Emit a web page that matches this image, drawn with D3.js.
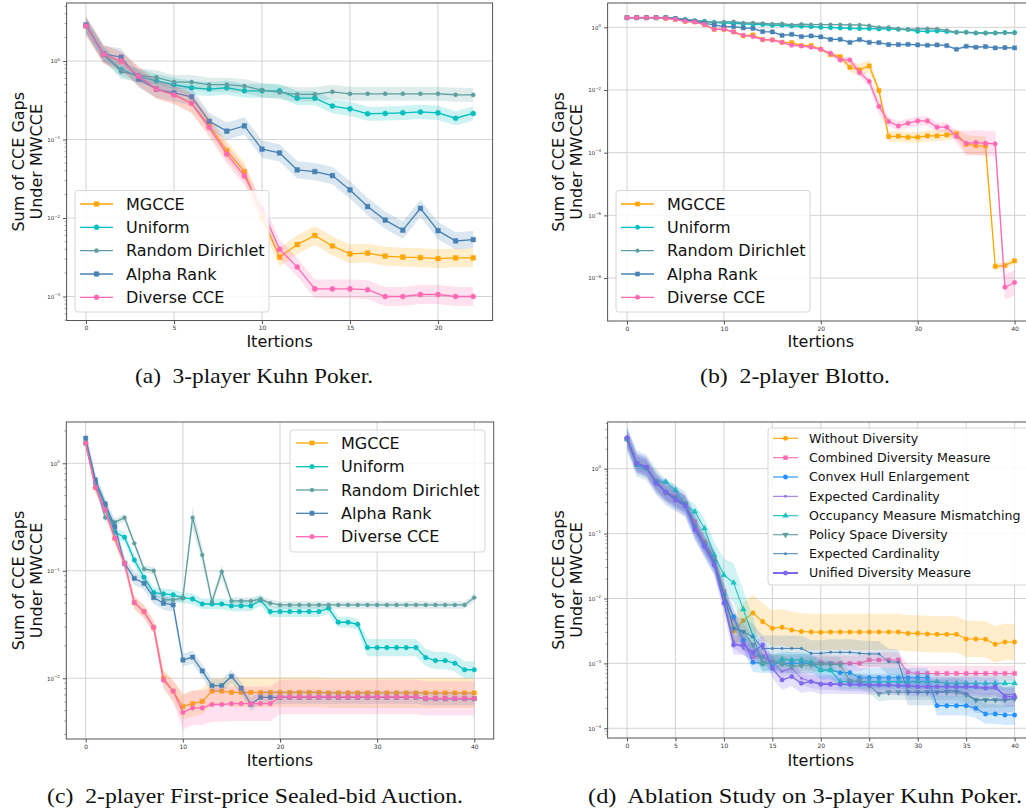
<!DOCTYPE html>
<html><head><meta charset="utf-8">
<script src="https://cdn.jsdelivr.net/npm/d3@7"></script>
<style>body{margin:0;background:#fff}</style>
</head><body><svg id="c" width="1026" height="809" font-family="DejaVu Sans"></svg>
<script>
// ---------------- Data: panel (a) 3-player Kuhn Poker, iterations 0..22 ----------------
const itersA = [0,1,2,3,4,5,6,7,8,9,10,11,12,13,14,15,16,17,18,19,20,21,22];
const mgcceA   = [2.8,1.22,1.0,0.64,0.44,0.376,0.29,0.152,0.072,0.039,0.0103,0.00317,0.00459,0.006,0.0044,0.0035,0.00357,0.00327,0.00317,0.00312,0.00303,0.0031,0.0031];
const uniformA = [2.8,1.22,0.78,0.64,0.56,0.50,0.457,0.44,0.457,0.418,0.418,0.418,0.337,0.337,0.267,0.246,0.213,0.215,0.219,0.225,0.219,0.187,0.215];
const dirichA  = [2.8,1.22,0.73,0.66,0.62,0.54,0.54,0.50,0.50,0.48,0.426,0.398,0.376,0.376,0.406,0.383,0.383,0.383,0.383,0.383,0.383,0.372,0.37];
const alphaA   = [2.9,1.23,1.12,0.59,0.44,0.394,0.35,0.171,0.128,0.149,0.0753,0.0675,0.041,0.039,0.0347,0.0228,0.014,0.0094,0.007,0.0133,0.0069,0.0051,0.0053];
const diverseA = [2.8,1.22,1.0,0.64,0.44,0.37,0.288,0.142,0.065,0.0344,0.0128,0.0040,0.00237,0.00125,0.00125,0.00125,0.00122,0.001,0.001,0.00106,0.00106,0.001,0.001];

// ---------------- Data: panel (b) 2-player Blotto, iterations 0..40 ----------------
const iters40 = [0,1,2,3,4,5,6,7,8,9,10,11,12,13,14,15,16,17,18,19,20,21,22,23,24,25,26,27,28,29,30,31,32,33,34,35,36,37,38,39,40];
const mgcceB   = [2.03,2.03,2.03,2.03,1.94,1.80,1.55,1.48,1.22,0.864,0.864,0.71,0.53,0.57,0.404,0.395,0.332,0.324,0.26,0.26,0.199,0.134,0.116,0.053,0.0436,0.0585,0.00957,0.000327,0.000335,0.000311,0.000311,0.000343,0.000343,0.000369,0.000398,0.000186,0.000169,0.000165,2.34e-8,2.52e-8,3.55e-8];
const uniformB = [2.03,2.03,2.03,2.03,2.03,1.89,1.71,1.63,1.55,1.44,1.37,1.34,1.28,1.25,1.22,1.16,1.16,1.10,1.076,1.05,1.0,0.976,0.952,0.929,0.907,0.907,0.885,0.885,0.864,0.843,0.746,0.746,0.764,0.728,0.693,0.693,0.66,0.66,0.66,0.676,0.676];
const dirichB  = [2.03,2.03,2.03,2.03,2.03,1.94,1.80,1.63,1.55,1.44,1.48,1.52,1.37,1.37,1.34,1.28,1.31,1.19,1.25,1.22,1.22,1.22,1.22,1.19,1.19,1.13,1.0,1.0,0.885,0.864,0.885,0.907,0.885,0.802,0.693,0.693,0.66,0.644,0.66,0.676,0.66];
const alphaB   = [2.03,2.03,2.03,2.03,2.03,1.89,1.71,1.55,1.34,1.19,1.05,1.05,0.952,0.929,0.728,0.71,0.556,0.598,0.504,0.53,0.492,0.414,0.414,0.332,0.404,0.332,0.324,0.28,0.28,0.287,0.273,0.267,0.273,0.26,0.199,0.248,0.231,0.242,0.22,0.225,0.22];
const diverseB = [2.03,2.03,2.03,2.03,1.94,1.80,1.55,1.48,1.22,0.864,0.864,0.71,0.556,0.504,0.404,0.395,0.332,0.267,0.254,0.231,0.199,0.148,0.091,0.091,0.0359,0.0185,0.00296,0.00098,0.000715,0.00087,0.00103,0.00103,0.000649,0.000649,0.000327,0.0002,0.00021,0.0002,0.000191,5.1e-9,7.2e-9];
// band half-widths (decades)
const mgcceBspread   = [0.03,0.03,0.03,0.03,0.03,0.03,0.03,0.03,0.03,0.03,0.03,0.03,0.03,0.03,0.03,0.03,0.03,0.03,0.03,0.03,0.03,0.06,0.08,0.15,0.2,0.2,0.15,0.17,0.17,0.17,0.17,0.17,0.17,0.17,0.15,0.3,0.3,0.3,0.1,0.1,0.1];
const diverseBspread = [0.03,0.03,0.03,0.03,0.03,0.03,0.03,0.03,0.03,0.03,0.03,0.03,0.03,0.03,0.03,0.03,0.03,0.03,0.03,0.03,0.03,0.08,0.1,0.1,0.15,0.15,0.25,0.15,0.15,0.15,0.15,0.15,0.15,0.15,0.2,0.4,0.4,0.4,0.4,0.4,0.4];

// ---------------- Data: panel (c) First-price Sealed-bid Auction ----------------
const mgcceC   = [1.535,0.594,0.368,0.2,0.117,0.0506,0.0417,0.0298,0.0100,0.0076,0.00545,0.0058,0.0061,0.0076,0.0076,0.0074,0.0074,0.0074,0.0074,0.0074,0.0074,0.0074,0.0074,0.0074,0.0074,0.0073,0.0073,0.0073,0.0073,0.0073,0.0073,0.0073,0.0073,0.0073,0.0073,0.0073,0.0073,0.0073,0.0073,0.0073,0.0073];
const uniformC = [1.535,0.652,0.41,0.228,0.205,0.126,0.087,0.0626,0.0609,0.0596,0.0559,0.0547,0.0491,0.0491,0.0491,0.0471,0.0471,0.0471,0.0532,0.0417,0.0417,0.0417,0.0417,0.0417,0.0417,0.0448,0.0332,0.0332,0.0318,0.0193,0.0193,0.0193,0.0193,0.0193,0.0193,0.0156,0.0146,0.0146,0.0138,0.012,0.012];
const dirichC  = [1.535,0.652,0.312,0.283,0.312,0.18,0.104,0.10,0.0535,0.0535,0.0559,0.312,0.14,0.0516,0.0982,0.0524,0.0524,0.0524,0.0543,0.0499,0.0481,0.0481,0.0481,0.0481,0.0481,0.0481,0.0481,0.0481,0.0481,0.0481,0.0481,0.0481,0.0481,0.0481,0.0481,0.0481,0.0481,0.0481,0.0481,0.0481,0.0563];
const alphaC   = [1.71,0.70,0.418,0.257,0.117,0.085,0.0765,0.0563,0.0499,0.0481,0.0148,0.0157,0.0117,0.00855,0.00855,0.0104,0.0081,0.00573,0.00665,0.00665,0.00665,0.00665,0.00665,0.00665,0.00665,0.00665,0.00665,0.00665,0.00665,0.00665,0.00665,0.00665,0.00665,0.00665,0.00665,0.00645,0.00645,0.00645,0.00645,0.00645,0.00645];
const diverseC = [1.535,0.594,0.368,0.2,0.117,0.0506,0.0417,0.0298,0.0096,0.0076,0.0048,0.0053,0.0053,0.0057,0.0057,0.0058,0.0058,0.0058,0.0058,0.0058,0.0067,0.0067,0.0067,0.0067,0.0067,0.0067,0.0067,0.0067,0.0067,0.0067,0.0067,0.0067,0.0067,0.0067,0.0067,0.0065,0.0065,0.0065,0.0065,0.0065,0.0065];
const mgcceCspread   = [0.04,0.05,0.05,0.05,0.05,0.06,0.06,0.06,0.08,0.1,0.12,0.12,0.12,0.12,0.12,0.14,0.14,0.14,0.14,0.14,0.14,0.14,0.14,0.14,0.14,0.14,0.14,0.14,0.14,0.14,0.14,0.14,0.14,0.14,0.14,0.14,0.14,0.14,0.14,0.14,0.14];
const diverseCspread = [0.04,0.05,0.05,0.05,0.05,0.06,0.06,0.06,0.08,0.1,0.16,0.16,0.16,0.16,0.16,0.16,0.16,0.16,0.16,0.16,0.16,0.16,0.16,0.16,0.16,0.16,0.16,0.16,0.16,0.16,0.16,0.16,0.16,0.16,0.16,0.16,0.16,0.16,0.16,0.16,0.16];
const uniformCspread = [0.05,0.05,0.05,0.05,0.05,0.05,0.05,0.05,0.05,0.05,0.05,0.05,0.05,0.05,0.05,0.05,0.05,0.05,0.05,0.05,0.05,0.05,0.05,0.05,0.05,0.05,0.05,0.05,0.05,0.08,0.08,0.08,0.08,0.08,0.08,0.08,0.08,0.08,0.08,0.08,0.08];
const dirichCspread  = [0.035,0.035,0.035,0.035,0.035,0.035,0.035,0.035,0.035,0.035,0.035,0.1,0.08,0.035,0.06,0.035,0.035,0.035,0.035,0.035,0.035,0.035,0.035,0.035,0.035,0.035,0.035,0.035,0.035,0.035,0.035,0.035,0.035,0.035,0.035,0.035,0.035,0.035,0.035,0.035,0.035];

// ---------------- Data: panel (d) Ablation on 3-player Kuhn Poker ----------------
const withoutD  = [2.86,1.21,1.04,0.63,0.432,0.37,0.282,0.136,0.075,0.0416,0.0127,0.00316,0.00456,0.00598,0.0044,0.00347,0.0036,0.00327,0.0031,0.00305,0.00303,0.00305,0.00305,0.00305,0.00305,0.00305,0.00305,0.00305,0.00305,0.0029,0.0029,0.00284,0.0028,0.0028,0.0028,0.00238,0.00238,0.00235,0.00197,0.00214,0.00214];
const combinedD = [2.86,1.21,1.04,0.63,0.432,0.37,0.292,0.153,0.0707,0.0416,0.013,0.0049,0.0022,0.00127,0.00127,0.001,0.001,0.001,0.001,0.001,0.00104,0.001,0.001,0.001,0.001,0.00113,0.00113,0.00113,0.00113,0.00073,0.0007,0.0007,0.0007,0.0007,0.0007,0.0007,0.0007,0.0007,0.0007,0.0007,0.0007];
const convexD   = [2.93,1.21,1.04,0.63,0.442,0.349,0.282,0.128,0.0667,0.0369,0.0113,0.00525,0.0023,0.00104,0.001,0.001,0.001,0.001,0.001,0.001,0.00079,0.00079,0.00072,0.00072,0.0006,0.0006,0.0006,0.0006,0.0006,0.0006,0.0006,0.0006,0.000223,0.000223,0.000223,0.000223,0.000203,0.000166,0.000166,0.00016,0.00016];
const expCard1D = [2.93,1.21,1.04,0.594,0.432,0.329,0.269,0.12,0.063,0.0347,0.0095,0.00216,0.0017,0.00138,0.00127,0.00106,0.00075,0.00084,0.00059,0.000524,0.000493,0.000493,0.000476,0.000465,0.000465,0.000454,0.000454,0.000454,0.000454,0.000438,0.000438,0.000438,0.000438,0.000438,0.000423,0.000423,0.000423,0.000403,0.000413,0.000326,0.000334];
const occupD    = [2.86,1.14,1.01,0.63,0.63,0.469,0.275,0.218,0.12,0.0468,0.023,0.0175,0.0068,0.00264,0.001,0.001,0.00116,0.00113,0.00113,0.00104,0.00079,0.00079,0.000524,0.000524,0.000524,0.000524,0.000524,0.000524,0.000524,0.000524,0.000524,0.000524,0.000524,0.000493,0.000493,0.000493,0.000493,0.000493,0.000493,0.000493,0.000493];
const policyD   = [2.86,1.21,1.04,0.63,0.432,0.349,0.282,0.128,0.0667,0.0369,0.0107,0.00347,0.00308,0.00192,0.001,0.00106,0.001,0.00089,0.00093,0.00095,0.00097,0.00097,0.00095,0.000536,0.000536,0.000454,0.000342,0.000359,0.000359,0.000359,0.000359,0.000359,0.000359,0.000359,0.000359,0.000326,0.000273,0.000273,0.000273,0.000273,0.000284];
const expCard2D = [2.86,1.21,1.04,0.63,0.432,0.349,0.282,0.128,0.0667,0.0369,0.0113,0.00347,0.00308,0.00258,0.0017,0.0017,0.0017,0.0017,0.0017,0.00143,0.00143,0.00148,0.00148,0.00148,0.00143,0.0014,0.0014,0.00106,0.00104,0.000359,0.000359,0.000359,0.000359,0.000376,0.000376,0.000346,0.000273,0.000273,0.000273,0.000273,0.00029];
const unifiedD  = [3.0,1.21,1.07,0.594,0.432,0.329,0.269,0.1136,0.063,0.0328,0.00843,0.00192,0.00192,0.00148,0.00192,0.00084,0.000556,0.000625,0.000493,0.000524,0.000476,0.000476,0.000476,0.000476,0.000476,0.000465,0.000465,0.000465,0.000454,0.000454,0.000438,0.000438,0.000438,0.000438,0.000438,0.000438,0.000438,0.000423,0.000438,0.000308,0.000308];
const withoutDspread = [0.04,0.04,0.04,0.04,0.04,0.04,0.04,0.04,0.04,0.04,0.04,0.25,0.28,0.28,0.28,0.28,0.28,0.28,0.28,0.28,0.28,0.28,0.28,0.28,0.28,0.28,0.28,0.28,0.28,0.28,0.28,0.28,0.28,0.28,0.28,0.28,0.28,0.28,0.28,0.28,0.28];
const occupDspread   = [0.04,0.04,0.04,0.04,0.04,0.08,0.1,0.12,0.15,0.2,0.25,0.3,0.3,0.3,0.12,0.12,0.12,0.12,0.12,0.12,0.12,0.12,0.12,0.12,0.12,0.12,0.12,0.12,0.12,0.12,0.12,0.12,0.12,0.12,0.12,0.12,0.12,0.12,0.12,0.12,0.12];

// tick values
const ticksA = [0,5,10,15,20];
const ticks40 = [0,10,20,30,40];
const ticksD = [0,5,10,15,20,25,30,35,40];
const legendNamesABC = ["MGCCE","Uniform","Random Dirichlet","Alpha Rank","Diverse CCE"];
const legendNamesD = ["Without Diversity","Combined Diversity Measure","Convex Hull Enlargement","Expected Cardinality","Occupancy Measure Mismatching","Policy Space Diversity","Expected Cardinality","Unified Diversity Measure"];
const captions = ["(a)  3-player Kuhn Poker.","(b)  2-player Blotto.","(c)  2-player First-price Sealed-bid Auction.","(d)  Ablation Study on 3-player Kuhn Poker."];

// ---------------- styling ----------------
const C = {orange:"#FFA500", cyan:"#00BFBF", teal:"#5F9EA0", steel:"#4682B4", pink:"#FF69B4",
  dodger:"#1E90FF", mpurple:"#9370DB", turq:"#17C3C3", slate:"#7B68EE"};

const svg = d3.select("#c");
svg.append("rect").attr("width",1026).attr("height",809).attr("fill","#fff");

function symbolPath(kind, size){
  const t = {square:d3.symbolSquare, circle:d3.symbolCircle, tri:d3.symbolTriangle, tridown:d3.symbolTriangle, dot:d3.symbolCircle}[kind];
  return d3.symbol().type(t).size(size)();
}
function drawMarker(g, kind, size, color, cx, cy){
  g.append("path").attr("d", symbolPath(kind,size))
    .attr("transform", `translate(${cx},${cy})` + (kind==="tridown"?" rotate(180)":""))
    .attr("fill", color).attr("stroke", color).attr("stroke-width", 0.4);
}

function drawPanel(p, idx){
  const x = d3.scaleLinear().domain(p.xDom).range([p.left,p.right]);
  const y = d3.scaleLog().domain([Math.pow(10,p.yExp[0]), Math.pow(10,p.yExp[1])]).range([p.top,p.bottom]);
  const g = svg.append("g");
  const cid = "clip"+idx;
  svg.append("clipPath").attr("id",cid).append("rect")
    .attr("x",p.left).attr("y",p.top).attr("width",p.right-p.left).attr("height",p.bottom-p.top);

  // grid
  g.selectAll(null).data(p.xTicks).join("line")
    .attr("x1",d=>x(d)).attr("x2",d=>x(d)).attr("y1",p.top).attr("y2",p.bottom)
    .attr("stroke","#d3d3d3").attr("stroke-width",1);
  g.selectAll(null).data(p.yMajor).join("line")
    .attr("x1",p.left).attr("x2",p.right).attr("y1",d=>y(Math.pow(10,d))).attr("y2",d=>y(Math.pow(10,d)))
    .attr("stroke","#d3d3d3").attr("stroke-width",1);

  const plot = g.append("g").attr("clip-path",`url(#${cid})`);
  p.series.forEach(s=>{
    const pts = s.values.map((v,i)=>({i:p.iters[i], v, sp: Array.isArray(s.spread)? s.spread[i] : s.spread}));
    plot.append("path").datum(pts)
      .attr("d", d3.area().x(d=>x(d.i)).y0(d=>y(d.v/Math.pow(10,d.sp))).y1(d=>y(d.v*Math.pow(10,d.sp))))
      .attr("fill", s.color).attr("fill-opacity", 0.2).attr("stroke","none");
    plot.append("path").datum(pts)
      .attr("d", d3.line().x(d=>x(d.i)).y(d=>y(d.v)))
      .attr("fill","none").attr("stroke",s.color).attr("stroke-width",s.lw);
    const mg = plot.append("g");
    pts.forEach(d=>drawMarker(mg, s.marker, s.ms, s.color, x(d.i), y(d.v)));
  });

  // spines
  g.append("rect").attr("x",p.left).attr("y",p.top).attr("width",p.right-p.left).attr("height",p.bottom-p.top)
    .attr("fill","none").attr("stroke","#555").attr("stroke-width",1);

  // x axis
  const xa = g.append("g").attr("transform",`translate(0,${p.bottom})`)
    .call(d3.axisBottom(x).tickValues(p.xTicks).tickSize(3.5).tickPadding(2).tickFormat(d3.format("d")));
  xa.attr("font-family",null).attr("font-size",null);
  xa.select(".domain").remove();
  xa.selectAll("line").attr("stroke","#555");
  xa.selectAll("text").attr("font-size",6).attr("fill","#333");

  // y axis (major)
  const ya = g.append("g").attr("transform",`translate(${p.left},0)`)
    .call(d3.axisLeft(y).tickValues(p.yMajor.map(e=>Math.pow(10,e))).tickSize(3.5).tickPadding(3).tickFormat(()=>""));
  ya.attr("font-family",null).attr("font-size",null);
  ya.select(".domain").remove();
  ya.selectAll("line").attr("stroke","#555");
  ya.selectAll(".tick text").each(function(d){
    const e = Math.round(Math.log10(d));
    const t = d3.select(this).attr("font-size",5.5).attr("fill","#333");
    t.append("tspan").text("10");
    t.append("tspan").attr("dy",-2.5).attr("font-size",4).text(e===0?"0":"\u2212"+(-e));
  });
  // minor ticks
  if(p.minor){
    const mins=[];
    for(let e=Math.floor(p.yExp[1]); e<=Math.ceil(p.yExp[0]); e++){
      for(let k=2;k<=9;k++){ const v=k*Math.pow(10,e); const lv=Math.log10(v); if(lv<p.yExp[0] && lv>p.yExp[1]) mins.push(v); }
    }
    g.selectAll(null).data(mins).join("line")
      .attr("x1",p.left-2).attr("x2",p.left).attr("y1",d=>y(d)).attr("y2",d=>y(d))
      .attr("stroke","#555").attr("stroke-width",0.6);
  }

  // axis labels
  g.append("text").attr("x",(p.left+p.right)/2).attr("y",p.xlabY).attr("text-anchor","middle")
    .attr("font-size",16).attr("fill","#111").text("Itertions");
  const ymid=(p.top+p.bottom)/2;
  g.append("text").attr("transform",`translate(${p.ylab1},${ymid}) rotate(-90)`).attr("text-anchor","middle")
    .attr("font-size",16).attr("fill","#111").text("Sum of CCE Gaps");
  g.append("text").attr("transform",`translate(${p.ylab2},${ymid}) rotate(-90)`).attr("text-anchor","middle")
    .attr("font-size",16).attr("fill","#111").text("Under MWCCE");

  // legend
  const L = p.legend;
  const lg = svg.append("g");
  lg.append("rect").attr("x",L.x).attr("y",L.y).attr("width",L.w).attr("height",L.h).attr("rx",3)
    .attr("fill","#fff").attr("fill-opacity",0.85).attr("stroke","#d6d6d6").attr("stroke-width",1);
  p.series.forEach((s,i)=>{
    const ry = L.rows[i];
    lg.append("line").attr("x1",L.hx[0]).attr("x2",L.hx[1]).attr("y1",ry).attr("y2",ry)
      .attr("stroke",s.color).attr("stroke-width",s.legLw || s.lw);
    drawMarker(lg, s.marker, s.ms, s.color, (L.hx[0]+L.hx[1])/2, ry);
    lg.append("text").attr("x",L.tx).attr("y",ry).attr("dy","0.35em").attr("font-size",L.fs).attr("fill","#111").text(s.name);
  });

  // caption
  svg.append("text").attr("x",p.cap.x).attr("y",p.cap.y).attr("text-anchor","middle")
    .style("font-family","'Liberation Serif','Times New Roman',serif").attr("font-size",21).attr("fill","#111")
    .attr("textLength",p.cap.len).attr("lengthAdjust","spacingAndGlyphs").style("white-space","pre")
    .text(p.cap.text);
}

function abcSeries(vals, spreads, msScale){
  const cols=[C.orange,C.cyan,C.teal,C.steel,C.pink];
  const mk=["square","circle","circle","square","circle"];
  const ms=[22,20,14,22,20];
  return legendNamesABC.map((n,i)=>({name:n,color:cols[i],marker:mk[i],ms:ms[i]*msScale,lw:1.3,values:vals[i],spread:spreads[i]}));
}

const legRowsTop=[204,227.3,250.7,274,297.3];

const panels = [
 { iters:itersA, left:66.6,right:492.6,top:3,bottom:320.5, xDom:[-1.1,23.1], yExp:[0.74,-3.306], xTicks:ticksA, yMajor:[0,-1,-2,-3], minor:true,
   series: abcSeries([mgcceA,uniformA,dirichA,alphaA,diverseA],[0.12,0.09,0.09,0.11,0.12],1),
   xlabY:347, ylab1:24, ylab2:42,
   legend:{x:75,y:190.5,w:194,h:121.5,rows:legRowsTop,hx:[80,113],tx:126,fs:16},
   cap:{x:254,y:383,len:238,text:captions[0]} },
 { iters:iters40, left:607.6,right:1034,top:3,bottom:321, xDom:[-2,42], yExp:[0.775,-9.37], xTicks:ticks40, yMajor:[0,-2,-4,-6,-8], minor:false,
   series: abcSeries([mgcceB,uniformB,dirichB,alphaB,diverseB],[mgcceBspread,0.03,0.03,0.03,diverseBspread],0.8),
   xlabY:347, ylab1:564, ylab2:582,
   legend:{x:616,y:190.5,w:194,h:121.5,rows:legRowsTop,hx:[621,654],tx:667,fs:16},
   cap:{x:795,y:383,len:190,text:captions[1]} },
 { iters:iters40, left:66.3,right:493.7,top:422,bottom:739, xDom:[-2,42], yExp:[0.384,-2.565], xTicks:ticks40, yMajor:[0,-1,-2], minor:true,
   series: abcSeries([mgcceC,uniformC,dirichC,alphaC,diverseC],[mgcceCspread,uniformCspread,dirichCspread,0.06,diverseCspread],0.85),
   xlabY:766, ylab1:24, ylab2:42,
   legend:{x:290,y:430,w:195,h:122,rows:[443,466.7,490,513.3,536.7],hx:[296,328],tx:341,fs:16},
   cap:{x:255,y:803,len:416,text:captions[2]} },
 { iters:iters40, left:607.6,right:1034,top:422,bottom:738, xDom:[-2,42], yExp:[0.72,-4.15], xTicks:ticksD, yMajor:[0,-1,-2,-3,-4], minor:true,
   series: [
     {name:legendNamesD[0],color:C.orange,marker:"circle",ms:16,lw:1.1,values:withoutD,spread:withoutDspread},
     {name:legendNamesD[1],color:C.pink,marker:"square",ms:16,lw:1.1,values:combinedD,spread:0.12},
     {name:legendNamesD[2],color:C.dodger,marker:"circle",ms:16,lw:1.1,values:convexD,spread:0.15},
     {name:legendNamesD[3],color:C.mpurple,marker:"dot",ms:5,lw:1.0,values:expCard1D,spread:0.1},
     {name:legendNamesD[4],color:C.turq,marker:"tri",ms:14,lw:1.1,values:occupD,spread:occupDspread},
     {name:legendNamesD[5],color:C.teal,marker:"tridown",ms:14,lw:1.1,values:policyD,spread:0.12},
     {name:legendNamesD[6],color:C.steel,marker:"dot",ms:5,lw:1.0,values:expCard2D,spread:0.2},
     {name:legendNamesD[7],color:C.slate,marker:"circle",ms:15,lw:1.3,legLw:2,values:unifiedD,spread:0.15}
   ],
   xlabY:766, ylab1:564, ylab2:582,
   legend:{x:768,y:428,w:265,h:157,rows:[438.3,457.7,477,496.3,515.7,534.7,553.7,573],hx:[773,798],tx:809,fs:12.6},
   cap:{x:805,y:803,len:434,text:captions[3]} }
];
panels.forEach((p,i)=>drawPanel(p,i));
</script></body></html>
